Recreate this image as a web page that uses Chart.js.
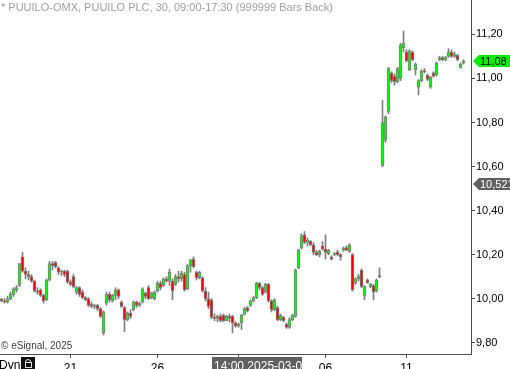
<!DOCTYPE html>
<html>
<head>
<meta charset="utf-8">
<script src="https://cdn.jsdelivr.net/npm/chart.js@4/dist/chart.umd.min.js"></script>
<style>
html, body { margin: 0; padding: 0; background: #fff; }
#wrap { width: 510px; height: 369px; position: relative; }
</style>
</head>
<body>
<div id="wrap"><canvas id="myChart"></canvas></div>
<script>
// PUUILO 30 min bars
const opens = [
10.0, 9.99, 9.985, 10.0, 10.02, 10.04, 10.06, 10.19, 10.125, 10.11,
10.1, 10.08, 10.035, 10.04, 10.015, 9.995, 10.085, 10.16, 10.165, 10.14,
10.12, 10.125, 10.125, 10.075, 10.1, 10.03, 10.05, 10.03, 10.005, 10.0,
9.975, 9.965, 9.97, 9.955, 9.845, 9.98, 10.02, 9.99, 10.015, 10.04,
9.985, 9.96, 9.905, 9.935, 9.95, 9.985, 9.97, 9.985, 10.025, 10.05,
10.005, 10.0, 10.035, 10.07, 10.06, 10.09, 10.08, 10.08, 10.065, 10.1,
10.09, 10.11, 10.045, 10.15, 10.18, 10.12, 10.095, 10.095, 10.035, 10.0,
9.995, 9.915, 9.91, 9.92, 9.925, 9.9, 9.92, 9.92, 9.89, 9.875,
9.89, 9.93, 9.96, 9.97, 9.99, 10.005, 10.07, 10.05, 10.03, 10.065,
9.99, 9.95, 9.96, 9.905, 9.915, 9.885, 9.87, 9.905, 9.92, 10.14,
10.23, 10.29, 10.255, 10.26, 10.245, 10.21, 10.2, 10.24, 10.225, 10.205,
10.19, 10.2, 10.213, 10.2, 10.22, 10.232, 10.215, 10.2, 10.07, 10.09,
10.13, 10.015, 10.085, 10.055, 10.06, 10.035, 10.1, 10.605, 10.72, 10.85,
11.025, 11.01, 10.985, 11.0, 11.14, 11.12, 11.04, 11.12, 11.04, 10.96,
10.99, 11.035, 11.015, 10.96, 11.025, 11.015, 11.085, 11.095, 11.083, 11.1,
11.12, 11.1, 11.105, 11.05, 11.07
]
const highs = [
10.0, 10.0, 10.01, 10.03, 10.05, 10.06, 10.16, 10.21, 10.14, 10.125,
10.11, 10.085, 10.05, 10.045, 10.02, 10.09, 10.17, 10.17, 10.17, 10.145,
10.13, 10.13, 10.13, 10.085, 10.11, 10.055, 10.055, 10.04, 10.01, 10.005,
9.985, 9.975, 9.975, 9.96, 9.945, 10.03, 10.03, 10.02, 10.05, 10.045,
9.99, 9.965, 9.94, 9.95, 9.99, 9.99, 9.985, 10.05, 10.03, 10.06,
10.03, 10.035, 10.08, 10.08, 10.095, 10.1, 10.135, 10.09, 10.11, 10.125,
10.125, 10.12, 10.155, 10.18, 10.19, 10.125, 10.125, 10.1, 10.05, 10.03,
10.0, 9.93, 9.925, 9.93, 9.93, 9.925, 9.93, 9.925, 9.895, 9.89,
9.93, 9.96, 9.965, 9.995, 10.01, 10.075, 10.075, 10.055, 10.07, 10.07,
9.995, 10.0, 9.965, 9.93, 9.92, 9.89, 9.915, 9.93, 10.135, 10.225,
10.295, 10.305, 10.275, 10.265, 10.255, 10.22, 10.22, 10.26, 10.29, 10.225,
10.195, 10.21, 10.22, 10.205, 10.235, 10.24, 10.25, 10.205, 10.095, 10.11,
10.135, 10.06, 10.09, 10.07, 10.065, 10.09, 10.14, 10.9, 10.83, 11.05,
11.03, 11.02, 11.05, 11.16, 11.215, 11.13, 11.13, 11.125, 11.07, 10.995,
11.04, 11.045, 11.02, 11.01, 11.03, 11.075, 11.1, 11.1, 11.1, 11.135,
11.13, 11.12, 11.11, 11.07, 11.085
]
const lows = [
9.986, 9.98, 9.98, 9.995, 10.01, 10.03, 10.055, 10.12, 10.09, 10.085,
10.075, 10.03, 10.02, 10.01, 9.98, 9.99, 10.08, 10.13, 10.14, 10.11,
10.105, 10.1, 10.07, 10.06, 10.05, 10.02, 10.01, 10.0, 9.99, 9.965,
9.96, 9.955, 9.945, 9.915, 9.835, 9.97, 9.985, 9.985, 9.995, 10.0,
9.96, 9.85, 9.9, 9.91, 9.945, 9.96, 9.965, 9.98, 10.0, 9.995,
10.0, 9.995, 10.03, 10.04, 10.055, 10.075, 10.06, 9.995, 10.06, 10.075,
10.08, 10.035, 10.04, 10.12, 10.14, 10.085, 10.09, 10.03, 9.99, 9.955,
9.91, 9.9, 9.895, 9.895, 9.895, 9.9, 9.895, 9.845, 9.87, 9.87,
9.86, 9.925, 9.94, 9.965, 9.985, 10.0, 10.04, 10.015, 10.025, 9.985,
9.94, 9.945, 9.9, 9.9, 9.895, 9.865, 9.865, 9.9, 9.915, 10.135,
10.225, 10.25, 10.24, 10.24, 10.2, 10.195, 10.19, 10.22, 10.18, 10.2,
10.175, 10.195, 10.195, 10.175, 10.215, 10.218, 10.21, 10.035, 10.065, 10.08,
10.05, 9.995, 10.07, 10.05, 9.995, 10.03, 10.095, 10.6, 10.71, 10.84,
10.98, 10.97, 10.98, 10.99, 11.12, 11.075, 11.035, 11.08, 11.015, 10.925,
10.985, 11.025, 10.99, 10.955, 11.005, 11.01, 11.08, 11.08, 11.08, 11.095,
11.095, 11.095, 11.08, 11.045, 11.065
]
const closes = [
9.99, 9.985, 10.0, 10.02, 10.045, 10.05, 10.16, 10.125, 10.11, 10.1,
10.08, 10.035, 10.03, 10.015, 9.99, 10.085, 10.16, 10.15, 10.145, 10.12,
10.125, 10.11, 10.075, 10.065, 10.055, 10.05, 10.02, 10.005, 9.995, 9.97,
9.965, 9.97, 9.955, 9.92, 9.94, 10.02, 9.995, 10.015, 10.04, 10.01,
9.965, 9.905, 9.935, 9.92, 9.985, 9.97, 9.98, 10.045, 10.01, 10.0,
10.025, 10.03, 10.07, 10.05, 10.09, 10.08, 10.12, 10.035, 10.1, 10.09,
10.115, 10.04, 10.15, 10.175, 10.145, 10.095, 10.12, 10.035, 10.0, 9.965,
9.915, 9.91, 9.92, 9.9, 9.9, 9.92, 9.91, 9.89, 9.875, 9.885,
9.925, 9.955, 9.945, 9.99, 10.005, 10.07, 10.05, 10.02, 10.065, 9.99,
9.95, 9.995, 9.905, 9.925, 9.9, 9.87, 9.905, 9.925, 10.13, 10.22,
10.285, 10.255, 10.265, 10.245, 10.21, 10.2, 10.215, 10.225, 10.21, 10.22,
10.18, 10.205, 10.2, 10.19, 10.23, 10.22, 10.245, 10.04, 10.09, 10.1,
10.055, 10.055, 10.072, 10.065, 10.03, 10.085, 10.1, 10.8, 10.825, 11.045,
10.99, 10.985, 11.045, 11.15, 11.16, 11.08, 11.125, 11.085, 11.065, 10.99,
11.035, 11.03, 10.995, 11.005, 11.01, 11.07, 11.095, 11.085, 11.097, 11.12,
11.1, 11.11, 11.085, 11.065, 11.08
]
const slots = 157
const dayTicks = { 23: '21', 52: '26', 79: '03', 108: '06', 135: '11' }
const yTicks = [9.8, 10.0, 10.2, 10.4, 10.6, 10.8, 11.0, 11.2]
const lastPrice = 11.08
const refPrice = 10.521

let labels = []
for (let i = 0; i < slots; i++) {
    labels.push(dayTicks[i] || '')
}
let bodies = []
let wicks = []
let bodyColors = []
for (let i = 0; i < opens.length; i++) {
    bodies.push([opens[i], closes[i]])
    wicks.push([lows[i], highs[i]])
    if (closes[i] > opens[i]) bodyColors.push('#00ff00')
    else if (closes[i] < opens[i]) bodyColors.push('#ff0000')
    else bodyColors.push('#808080')
}

function fmt(v, d) {
    return v.toFixed(d).replace('.', ',')
}

function priceTag(ctx, y, x0, text, fill, color) {
    ctx.fillStyle = fill
    ctx.beginPath()
    ctx.moveTo(x0, y)
    ctx.lineTo(x0 + 6, y - 6)
    ctx.lineTo(510, y - 6)
    ctx.lineTo(510, y + 6)
    ctx.lineTo(x0 + 6, y + 6)
    ctx.closePath()
    ctx.fill()
    ctx.fillStyle = color
    ctx.font = '11px Arial, "Liberation Sans"'
    ctx.textBaseline = 'middle'
    ctx.textAlign = 'left'
    ctx.fillText(text, x0 + 7, y + 0.5)
}

const extras = {
    id: 'extras',
    afterDraw(chart) {
        const ctx = chart.ctx
        const y = chart.scales.y
        const ax = chart.chartArea.right
        ctx.save()
        ctx.font = '11px Arial, "Liberation Sans"'
        ctx.fillStyle = '#a0a0a0'
        ctx.textBaseline = 'top'
        ctx.textAlign = 'left'
        ctx.fillText('* PUUILO-OMX, PUUILO PLC, 30, 09:00-17:30 (999999 Bars Back)', 1, 2)
        ctx.font = '10px Arial, "Liberation Sans"'
        ctx.fillStyle = '#404040'
        ctx.textBaseline = 'middle'
        ctx.fillText('\u00a9 eSignal, 2025', 1, 346)

        priceTag(ctx, Math.round(y.getPixelForValue(lastPrice)), ax + 2, fmt(lastPrice, 2), '#00ee00', '#000')
        priceTag(ctx, Math.round(y.getPixelForValue(refPrice)), ax + 2, fmt(refPrice, 3), '#606060', '#fff')

        // bottom-left panel text and lock
        ctx.font = '12px Arial, "Liberation Sans"'
        ctx.fillStyle = '#000'
        ctx.textBaseline = 'top'
        ctx.fillText('Dyn', -1, 360)
        ctx.fillStyle = '#111'
        ctx.fillRect(21, 357, 14, 12)
        ctx.strokeStyle = '#ddd'
        ctx.lineWidth = 1
        ctx.beginPath()
        ctx.arc(28, 362, 2.5, Math.PI, 0)
        ctx.stroke()
        ctx.strokeRect(25.5, 362.5, 6, 5)

        // crosshair time label
        ctx.fillStyle = '#606060'
        ctx.fillRect(212, 357, 90, 12)
        ctx.fillStyle = '#fff'
        ctx.fillText('14:00 2025-03-03', 214, 361)
        ctx.restore()
    }
}

let ctx = document.getElementById('myChart').getContext('2d')
let myChart = new Chart(ctx, {
    type: 'bar',
    data: {
        labels: labels,
        datasets: [{
            label: 'Body',
            data: bodies,
            backgroundColor: bodyColors,
            borderColor: '#7f7f7f',
            borderWidth: 1,
            borderSkipped: false,
            barThickness: 3,
            minBarLength: 1,
            grouped: false,
            order: 1
        }, {
            label: 'Wick',
            data: wicks,
            backgroundColor: '#7f7f7f',
            borderWidth: 0,
            barThickness: 1,
            grouped: false,
            order: 2
        }]
    },
    options: {
        animation: false,
        responsive: true,
        maintainAspectRatio: false,
        layout: { padding: 0 },
        plugins: {
            legend: { display: false },
            tooltip: { enabled: false }
        },
        scales: {
            x: {
                afterFit: s => { s.height = 15; s.paddingLeft = 0; s.paddingRight = 0 },
                afterBuildTicks: s => {
                    s.ticks = s.ticks.filter(t => labels[t.value])
                },
                grid: { drawOnChartArea: false, offset: false, tickLength: 4, color: '#505050' },
                border: { color: '#505050' },
                ticks: {
                    autoSkip: false,
                    maxRotation: 0,
                    padding: 3,
                    color: '#000',
                    font: { family: 'Arial, "Liberation Sans"', size: 12 }
                }
            },
            y: {
                position: 'right',
                min: 9.749,
                max: 11.356,
                afterFit: s => { s.width = 39; s.paddingTop = 0; s.paddingBottom = 0 },
                afterBuildTicks: s => {
                    s.ticks = yTicks.map(v => ({ value: v }))
                },
                grid: { drawOnChartArea: false, tickLength: 4, color: '#505050' },
                border: { color: '#505050' },
                ticks: {
                    padding: 1,
                    color: '#000',
                    font: { family: 'Arial, "Liberation Sans"', size: 11 },
                    callback: v => fmt(v, 2)
                }
            }
        }
    },
    plugins: [extras]
})
</script>
</body>
</html>
